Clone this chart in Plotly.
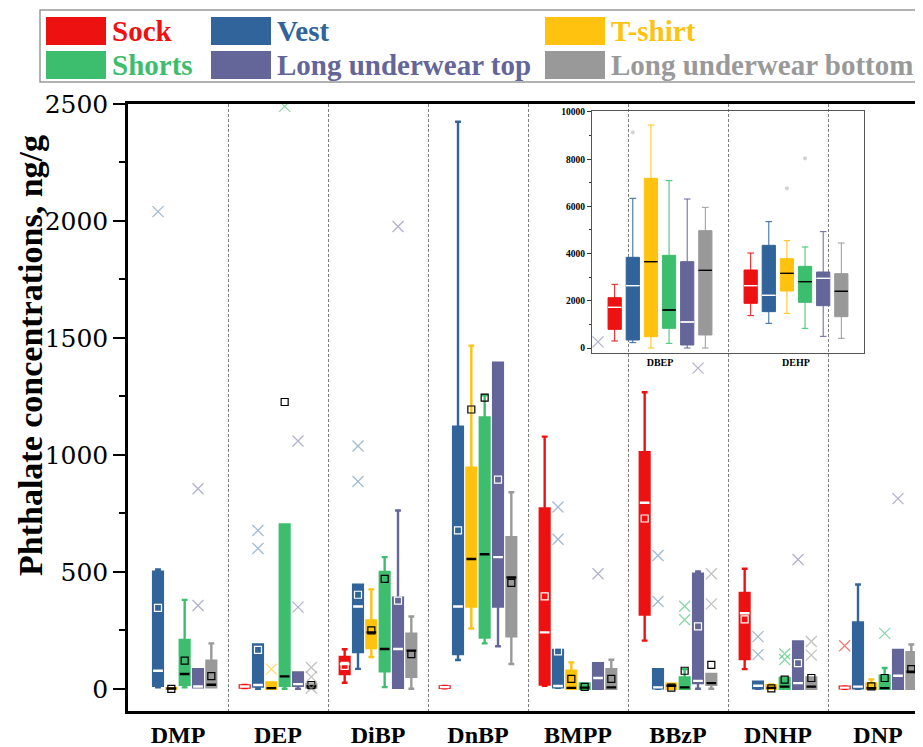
import plotly.graph_objects as go

# ---------------- data ----------------
categories = ["DMP", "DEP", "DiBP", "DnBP", "BMPP", "BBzP", "DNHP", "DNP"]
series_names = ["Sock", "Vest", "T-shirt", "Shorts", "Long underwear top", "Long underwear bottom"]
series_colors = ["#EE1111", "#30649A", "#FFC20E", "#3DBE6E", "#646598", "#999999"]
outlier_colors = ["rgba(238,17,17,0.55)", "rgba(48,100,154,0.45)", "rgba(255,194,14,0.6)",
                  "rgba(61,190,110,0.6)", "rgba(100,101,152,0.5)", "rgba(153,153,153,0.6)"]
median_colors = ["white", "white", "black", "black", "white", "black"]

# Sock
sock_lower = [None, 3, 26, 2, 13, 206, 84, 0]
sock_q1 = [None, 5, 63, 4, 18, 317, 127, 2]
sock_median = [None, 10, 106, 7, 241, 795, 323, 5]
sock_q3 = [None, 14, 136, 10, 771, 1011, 410, 9]
sock_upper = [None, 16, 169, 12, 1078, 1268, 513, 10]
sock_mean = [None, None, 98, None, 395, 728, 297, None]
sock_out_cat = ["DNP"]
sock_out_val = [184]

# Vest
vest_lower = [6, 0, 85, 123, 4, 0, 0, 0]
vest_q1 = [13, 9, 157, 148, 6, 2, 2, 2]
vest_median = [77, 16, 352, 352, 12, 6, 13, 9]
vest_q3 = [500, 189, 445, 1120, 166, 84, 30, 284]
vest_upper = [510, 189, 445, 2424, 168, 84, 30, 446]
vest_mean = [346, 166, 402, 677, 160, None, None, None]
vest_out_cat = ["DMP", "DEP", "DEP", "DiBP", "DiBP", "BMPP", "BMPP", "BBzP", "BBzP", "DNHP", "DNHP"]
vest_out_val = [2040, 677, 600, 1038, 886, 777, 639, 570, 373, 223, 146]

# T-shirt
tshirt_lower = [0, 0, 136, 258, 0, 0, 0, 0]
tshirt_q1 = [0, 0, 174, 352, 0, 0, 0, 0]
tshirt_median = [1, 3, 241, 555, 4, 13, 4, 2]
tshirt_q3 = [3, 27, 292, 945, 77, 22, 15, 23]
tshirt_upper = [3, 27, 425, 1467, 113, 22, 18, 40]
tshirt_mean = [0, None, 250, 1194, 42, 5, 2, 10]
tshirt_out_cat = ["DEP"]
tshirt_out_val = [84]

# Shorts
shorts_lower = [6, 0, 7, 194, 0, 0, 0, 0]
shorts_q1 = [17, 13, 75, 219, 0, 0, 0, 0]
shorts_median = [63, 53, 170, 575, 5, 6, 9, 3]
shorts_q3 = [209, 703, 499, 1160, 23, 48, 46, 56]
shorts_upper = [380, 703, 563, 1255, 23, 84, 46, 89]
shorts_mean = [120, 1226, 470, 1245, 8, 77, 39, 46]
shorts_out_cat = ["DEP", "BBzP", "BBzP", "DNHP", "DNHP", "DNP"]
shorts_out_val = [2490, 353, 295, 150, 125, 237]

# Long underwear top
lut_lower = [6, 0, 4, 182, 0, 0, 0, 0]
lut_q1 = [6, 13, 4, 352, 0, 24, 0, 0]
lut_median = [10, 20, 170, 563, 46, 34, 24, 56]
lut_q3 = [84, 70, 389, 1394, 109, 492, 202, 166]
lut_upper = [84, 70, 762, 1394, 109, 502, 202, 166]
lut_mean = [None, None, 377, 894, None, 267, 110, None]
lut_out_cat = ["DMP", "DMP", "DEP", "DEP", "DiBP", "BMPP", "BMPP", "BBzP", "DNHP", "DNP"]
lut_out_val = [356, 855, 349, 1059, 1976, 492, 1483, 1371, 553, 813]

# Long underwear bottom
lub_lower = [6, 3, 0, 106, 0, 0, 0, 0]
lub_q1 = [6, 5, 51, 224, 0, 17, 0, 0]
lub_median = [17, 11, 163, 476, 6, 24, 9, 73]
lub_q3 = [120, 18, 236, 648, 84, 63, 48, 156]
lub_upper = [194, 18, 309, 840, 124, 63, 48, 189]
lub_mean = [54, 16, 148, 453, 42, 102, 46, 84]
lub_out_cat = ["DEP", "DEP", "DEP", "BBzP", "BBzP", "DNHP", "DNHP"]
lub_out_val = [91, 51, 3, 492, 363, 202, 144]

# Inset (DBEP, DEHP)
inset_categories = ["DBEP", "DEHP"]
inset_lower = [[297, 1370], [226, 1045], [0, 1469], [198, 833], [0, 494], [0, 410]]
inset_q1 = [[791, 1893], [339, 1540], [480, 2415], [833, 1935], [127, 1794], [551, 1328]]
inset_median = [[1723, 2641], [2641, 2232], [3658, 3163], [1610, 2811], [1102, 2952], [3290, 2402]]
inset_q3 = [[2132, 3305], [3842, 4350], [7189, 3785], [3927, 3460], [3658, 3220], [4972, 3150]]
inset_upper = [[2699, 4025], [6343, 5353], [9449, 4548], [7090, 4280], [6313, 4930], [5960, 4449]]
inset_out_cat = [[], ["DBEP"], ["DEHP"], ["DEHP"], [], []]
inset_out_val = [[], [9138], [6766], [8037], [], []]

y_ticks = [0, 500, 1000, 1500, 2000, 2500]
inset_y_ticks = [0, 2000, 4000, 6000, 8000, 10000]

series_stats = [
    (sock_lower, sock_q1, sock_median, sock_q3, sock_upper, sock_mean, sock_out_cat, sock_out_val),
    (vest_lower, vest_q1, vest_median, vest_q3, vest_upper, vest_mean, vest_out_cat, vest_out_val),
    (tshirt_lower, tshirt_q1, tshirt_median, tshirt_q3, tshirt_upper, tshirt_mean, tshirt_out_cat, tshirt_out_val),
    (shorts_lower, shorts_q1, shorts_median, shorts_q3, shorts_upper, shorts_mean, shorts_out_cat, shorts_out_val),
    (lut_lower, lut_q1, lut_median, lut_q3, lut_upper, lut_mean, lut_out_cat, lut_out_val),
    (lub_lower, lub_q1, lub_median, lub_q3, lub_upper, lub_mean, lub_out_cat, lub_out_val),
]

SERIF = "Liberation Serif"
CLEAR = "rgba(0,0,0,0)"

fig = go.Figure()


def add_series(i, cats, lo, q1, med, q3, hi, mean_cats, mean_vals, out_cats, out_vals,
               xa, ya, group, lw, ww, msize, osize, osym, ocolor):
    color = series_colors[i]
    common = dict(xaxis=xa, yaxis=ya, offsetgroup=str(i), alignmentgroup=group,
                  showlegend=False, hoverinfo="skip", orientation="v")
    fig.add_trace(go.Box(x=cats, q1=q1, median=med, q3=q3, lowerfence=lo, upperfence=hi,
                         fillcolor=color, line=dict(color=color, width=lw), whiskerwidth=ww,
                         boxpoints=False, name=series_names[i], **common))
    fig.add_trace(go.Box(x=cats, q1=med, median=med, q3=med, lowerfence=med, upperfence=med,
                         fillcolor=CLEAR, line=dict(color=median_colors[i], width=lw), whiskerwidth=0,
                         boxpoints=False, **common))
    if mean_cats:
        fig.add_trace(go.Box(x=mean_cats, y=mean_vals, boxpoints="all", jitter=0, pointpos=0,
                             fillcolor=CLEAR, line=dict(color=CLEAR, width=0),
                             marker=dict(symbol="square-open", size=msize, color=median_colors[i],
                                         line=dict(width=1.2, color=median_colors[i])), **common))
    if out_cats:
        fig.add_trace(go.Box(x=out_cats, y=out_vals, boxpoints="all", jitter=0, pointpos=0,
                             fillcolor=CLEAR, line=dict(color=CLEAR, width=0),
                             marker=dict(symbol=osym, size=osize, color=ocolor,
                                         line=dict(width=1.3, color=ocolor)), **common))


for i, (lo, q1, med, q3, hi, mean, oc, ov) in enumerate(series_stats):
    idx = [k for k in range(len(categories)) if q1[k] is not None]
    cats = [categories[k] for k in idx]
    mcats = [categories[k] for k in idx if mean[k] is not None]
    mvals = [mean[k] for k in idx if mean[k] is not None]
    add_series(i, cats, [lo[k] for k in idx], [q1[k] for k in idx], [med[k] for k in idx],
               [q3[k] for k in idx], [hi[k] for k in idx], mcats, mvals, oc, ov,
               "x", "y", "main", 2.4, 0.6, 7, 11, "x-thin-open", outlier_colors[i])

for i in range(len(series_names)):
    add_series(i, inset_categories, inset_lower[i], inset_q1[i], inset_median[i], inset_q3[i],
               inset_upper[i], [], [], inset_out_cat[i], inset_out_val[i],
               "x2", "y2", "inset", 1, 0.5, 5, 3, "circle", "rgba(160,160,160,0.35)")

# ---------------- layout ----------------
# the page body adds an 8px offset, so screen pixels are converted to figure pixels
OFF = 8
W, H = 923, 747
ML, MT = 128 - OFF, 104 - OFF          # plot area starts at screen (128, 104)
PW = 800                                # 100 px per category
MR = W - ML - PW
PLOT_BOTTOM = 711 - OFF
MB = H - PLOT_BOTTOM
PH = PLOT_BOTTOM - MT


def px_x(px):
    return (px - OFF - ML) / PW


def px_y(py):
    return (PLOT_BOTTOM - (py - OFF)) / PH


fig.update_layout(
    width=W, height=H,
    margin=dict(l=ML, r=MR, t=MT, b=MB, autoexpand=False),
    paper_bgcolor="white", plot_bgcolor=CLEAR,
    boxmode="group", boxgap=0.2, boxgroupgap=0.27,
    showlegend=False,
    xaxis=dict(domain=[0, 1], type="category", categoryorder="array", categoryarray=categories,
               range=[-0.5, 7.5], tickson="boundaries", ticks="",
               showgrid=True, gridcolor="#808080", gridwidth=1, griddash="3px,2px",
               showline=True, linecolor="black", linewidth=2.5, mirror=True, zeroline=False,
               automargin=False,
               tickfont=dict(family=SERIF, size=24, color="black", weight="bold")),
    yaxis=dict(domain=[0, 1], range=[-95, 2500], tickvals=y_ticks, ticks="outside",
               ticklen=12, tickwidth=2, tickcolor="black", automargin=False,
               minor=dict(ticks="outside", ticklen=6, tickwidth=2, tickcolor="black", dtick=250, tick0=0),
               showline=True, linecolor="black", linewidth=2.5, showgrid=False, zeroline=False,
               tickfont=dict(family="DejaVu Serif", size=25, color="black")),
    xaxis2=dict(domain=[px_x(592), px_x(864)], anchor="y2", type="category",
                categoryorder="array", categoryarray=inset_categories, range=[-0.5, 1.5],
                ticks="", showgrid=False, showline=True, linecolor="#555", linewidth=1,
                mirror=True, zeroline=False, automargin=False,
                tickfont=dict(family=SERIF, size=10, color="black", weight="bold")),
    yaxis2=dict(domain=[px_y(353), px_y(111)], anchor="x2", range=[-212, 10042],
                tickvals=inset_y_ticks, tickformat="d", ticks="outside", ticklen=4, tickwidth=1,
                tickcolor="#333", automargin=False,
                minor=dict(ticks="outside", ticklen=2, tickwidth=1, tickcolor="#333", dtick=1000, tick0=0),
                showline=True, linecolor="#555", linewidth=1, mirror=True, showgrid=False,
                zeroline=False,
                tickfont=dict(family=SERIF, size=9.5, color="black", weight="bold")),
)

# y-axis title
fig.add_annotation(text="Phthalate concentrations, ng/g", textangle=-90,
                   xref="paper", yref="paper", x=px_x(30), y=px_y(356),
                   xanchor="center", yanchor="middle", showarrow=False, borderpad=0,
                   font=dict(family=SERIF, size=34, color="black", weight="bold"))

# custom legend (large swatches, coloured labels)
legend_col_px = [46, 211, 545]
legend_row_px = [31, 65]
shapes = [dict(type="rect", xref="paper", yref="paper", x0=px_x(40), x1=px_x(921),
               y0=px_y(82), y1=px_y(10), line=dict(color="#999", width=1.5), fillcolor=CLEAR)]
for i, name in enumerate(series_names):
    col, row = i % 3, i // 3
    cx, cy = legend_col_px[col], legend_row_px[row]
    shapes.append(dict(type="rect", xref="paper", yref="paper", x0=px_x(cx), x1=px_x(cx + 60),
                       y0=px_y(cy + 14), y1=px_y(cy - 14), line=dict(width=0),
                       fillcolor=series_colors[i]))
    fig.add_annotation(text=name, xref="paper", yref="paper", x=px_x(cx + 64), y=px_y(cy),
                       xanchor="left", yanchor="middle", showarrow=False,
                       font=dict(family=SERIF, size=29, color=series_colors[i], weight="bold"))
fig.update_layout(shapes=shapes)

fig.write_html("out.html")
